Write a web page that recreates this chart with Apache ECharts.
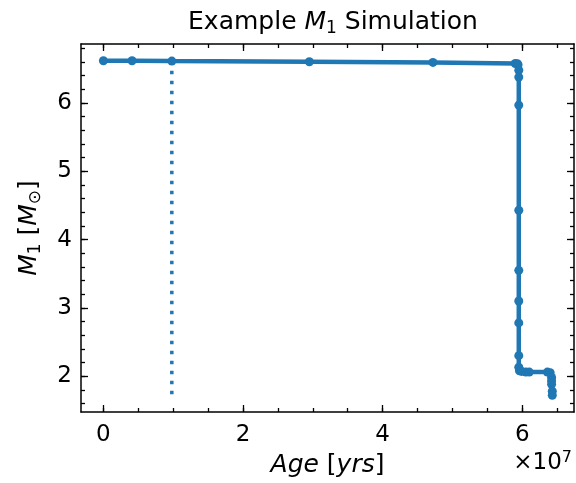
<!DOCTYPE html>
<html>
<head>
<meta charset="utf-8">
<script src="https://cdn.jsdelivr.net/npm/echarts@6/dist/echarts.min.js"></script>
<style>
  html, body { margin: 0; padding: 0; background: #fff; }
  #chart { width: 576px; height: 483px; }
</style>
</head>
<body>
<div id="chart"></div>
<script>
// simulation track, age in years and primary mass in solar masses
const ages = [0, 0.41e7, 0.98e7, 2.95e7, 4.72e7, 5.90e7, 5.93e7, 5.94e7, 5.95e7, 5.95e7,
  5.95e7, 5.95e7, 5.95e7, 5.95e7, 5.95e7, 5.95e7, 5.95e7, 5.96e7, 5.99e7, 6.05e7,
  6.10e7, 6.36e7, 6.40e7, 6.42e7, 6.42e7, 6.42e7, 6.43e7, 6.43e7];
const masses = [6.62, 6.62, 6.615, 6.605, 6.595, 6.58, 6.575, 6.56, 6.48, 6.38,
  5.97, 4.43, 3.55, 3.10, 2.78, 2.30, 2.13, 2.08, 2.07, 2.06,
  2.06, 2.06, 2.05, 1.98, 1.93, 1.88, 1.78, 1.72];
// dotted marker line
const markAge = [0.98e7, 0.98e7];
const markMass = [6.62, 1.72];

const xMajor = [0, 2e7, 4e7, 6e7];
const xMinor = [0, 0.5e7, 1e7, 1.5e7, 2e7, 2.5e7, 3e7, 3.5e7, 4e7, 4.5e7, 5e7, 5.5e7, 6e7, 6.5e7];
const yMajor = [2, 3, 4, 5, 6];
const yMinor = [1.6, 1.8, 2, 2.2, 2.4, 2.6, 2.8, 3, 3.2, 3.4, 3.6, 3.8, 4, 4.2, 4.4, 4.6, 4.8,
  5, 5.2, 5.4, 5.6, 5.8, 6, 6.2, 6.4, 6.6, 6.8];

const xMin = -0.321e7, xMax = 6.741e7;
const yMin = 1.475, yMax = 6.865;

const font = 'DejaVu Sans';
const blue = '#1f77b4';

const myChart = echarts.init(document.getElementById('chart'));

const tickAxis = (extra, values, len, showLine) => Object.assign({
  type: 'value',
  axisLine: { show: showLine, onZero: false, lineStyle: { color: '#000', width: 1.5 } },
  axisTick: { show: true, inside: true, length: len, customValues: values, lineStyle: { color: '#000', width: 1.3 } },
  axisLabel: { show: false },
  splitLine: { show: false }
}, extra);

const rich = {
  it: { fontFamily: font, fontStyle: 'italic', fontWeight: 'normal', fontSize: 25, color: '#000' },
  n: { fontFamily: font, fontWeight: 'normal', fontSize: 25, color: '#000' },
  sub: { fontFamily: font, fontWeight: 'normal', fontSize: 17, color: '#000', verticalAlign: 'bottom', padding: [12, 0, 0, 0] }
};

const option = {
  animation: false,
  backgroundColor: '#fff',
  title: {
    text: '{n|Example }{it|M}{sub|1}{n| Simulation}',
    left: 328,
    top: 3,
    textAlign: 'center',
    textStyle: { fontWeight: 'normal', rich: rich }
  },
  grid: { left: 81, right: 2, top: 44, bottom: 71, containLabel: false },
  xAxis: [
    tickAxis({
      position: 'bottom', min: xMin, max: xMax,
      name: '{it|Age}{n| [}{it|yrs}{n|]}',
      nameLocation: 'middle', nameGap: 41,
      nameTextStyle: { rich: rich },
      axisLabel: {
        show: true, customValues: xMajor, margin: 12,
        formatter: v => String(Math.round(v / 1e7)),
        color: '#000', fontFamily: font, fontSize: 23
      }
    }, xMajor, 7, true),
    tickAxis({ position: 'bottom', min: xMin, max: xMax }, xMinor, 4, false),
    tickAxis({ position: 'top', min: xMin, max: xMax }, xMajor, 7, true),
    tickAxis({ position: 'top', min: xMin, max: xMax }, xMinor, 4, false)
  ],
  yAxis: [
    tickAxis({
      position: 'left', min: yMin, max: yMax,
      name: '{it|M}{sub|1}{n| [}{it|M}{sub|⊙}{n|]}',
      nameLocation: 'middle', nameGap: 37, nameRotate: 90,
      nameTextStyle: { rich: rich },
      axisLabel: {
        show: true, customValues: yMajor, margin: 9,
        color: '#000', fontFamily: font, fontSize: 23
      }
    }, yMajor, 7, true),
    tickAxis({ position: 'left', min: yMin, max: yMax }, yMinor, 4, false),
    tickAxis({ position: 'right', min: yMin, max: yMax }, yMajor, 7, true),
    tickAxis({ position: 'right', min: yMin, max: yMax }, yMinor, 4, false)
  ],
  graphic: [{
    type: 'text',
    right: 4,
    top: 450,
    style: {
      text: '{n|×10}{sup|7}',
      rich: {
        n: { fontFamily: font, fontSize: 23, color: '#000' },
        sup: { fontFamily: font, fontSize: 16, color: '#000', verticalAlign: 'top', padding: [0, 0, 10, 0] }
      }
    }
  }],
  series: [
    {
      type: 'line',
      data: markAge.map((a, i) => [a, markMass[i]]),
      xAxisIndex: 0, yAxisIndex: 0,
      symbol: 'none',
      lineStyle: { color: blue, width: 3.5, type: [3.5, 6.5], cap: 'butt' },
      z: 2
    },
    {
      type: 'line',
      data: ages.map((a, i) => [a, masses[i]]),
      xAxisIndex: 0, yAxisIndex: 0,
      symbol: 'circle',
      symbolSize: 9,
      lineStyle: { color: blue, width: 4.5 },
      itemStyle: { color: blue },
      z: 3
    }
  ]
};

myChart.setOption(option);
</script>
</body>
</html>
